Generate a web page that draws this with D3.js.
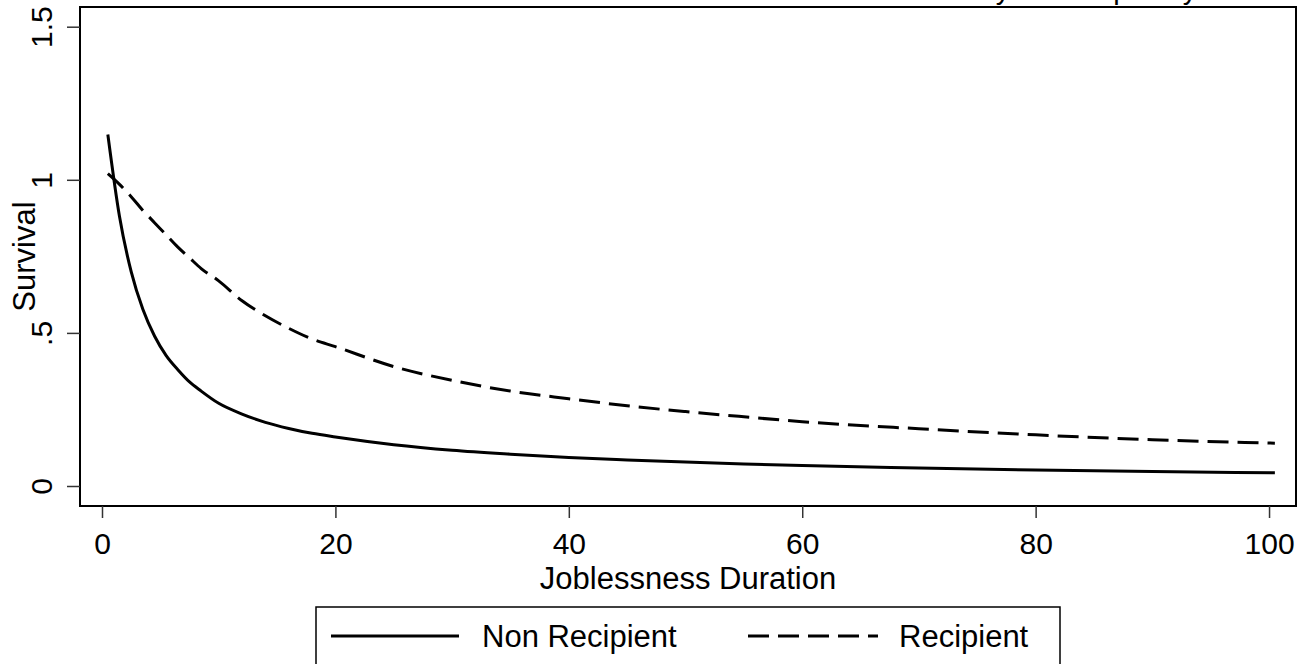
<!DOCTYPE html>
<html><head><meta charset="utf-8">
<script src="https://cdn.jsdelivr.net/npm/d3@7"></script>
<style>body{margin:0;background:#fff}svg{display:block}text{font-family:"Liberation Sans",Arial,sans-serif;fill:#000}</style>
</head><body><svg id="c" width="1312" height="664"></svg>
<script>
// ---- data ----
const duration      = [0.5, 1.5, 2.5, 3.5, 4.5, 5.5, 6.5, 7.5, 8.5, 10, 12, 14, 16, 18, 20, 25, 30, 35, 40, 45, 50, 55, 60, 70, 80, 90, 100.5];
const nonRecipient  = [1.148, 0.88, 0.70, 0.577, 0.49, 0.426, 0.38, 0.34, 0.31, 0.27, 0.235, 0.208, 0.188, 0.172, 0.16, 0.135, 0.117, 0.104, 0.093, 0.085, 0.078, 0.072, 0.067, 0.059, 0.052, 0.047, 0.043];
const recipient     = [1.02, 0.985, 0.945, 0.90, 0.86, 0.82, 0.78, 0.745, 0.71, 0.67, 0.605, 0.556, 0.515, 0.48, 0.455, 0.39, 0.345, 0.31, 0.285, 0.262, 0.243, 0.226, 0.21, 0.187, 0.167, 0.151, 0.14];
const xTicks        = [0, 20, 40, 60, 80, 100];
const yTicks        = [0, 0.5, 1, 1.5];
const yTickLabels   = ["0", ".5", "1", "1.5"];
const seriesNames   = ["Non Recipient", "Recipient"];
const titleText     = "Survival Function by UI Recipiency";
const xTitle        = "Joblessness Duration";
const yTitle        = "Survival";

// ---- layout ----
const svg = d3.select("#c");
const L = 80, R = 1296, T = 7, B = 506;
const x = d3.scaleLinear().domain([-1.885, 102.31]).range([L, R]);
const y = d3.scaleLinear().domain([0, 1.5]).range([486, 26.7]);
const FS = 30;

// title (cut off at the top edge; only descenders visible)
const title = svg.append("text").attr("x", 0).attr("y", -1)
  .style("font-size", "29px").text(titleText);
{
  const node = title.node();
  const idx = titleText.indexOf("by") + 1;
  const ext = node.getExtentOfChar(idx);
  const cx = ext.x + ext.width / 2;
  title.attr("x", 1003 - cx);
}

// plot frame
svg.append("rect").attr("x", L).attr("y", T).attr("width", R - L).attr("height", B - T)
  .attr("fill", "#fff").attr("stroke", "#000").attr("stroke-width", 2);

// y axis
const ya = svg.append("g").attr("transform", `translate(${L},0)`)
  .call(d3.axisLeft(y).tickValues(yTicks).tickSize(13).tickFormat((d, i) => yTickLabels[i]));
ya.select(".domain").remove();
ya.selectAll(".tick line").attr("stroke", "#333").attr("stroke-width", 1.5);
ya.selectAll(".tick text").attr("x", null).attr("dy", null)
  .attr("transform", "translate(-28,0) rotate(-90)").attr("text-anchor", "middle")
  .style("font-size", FS + "px").attr("fill", "#000");

// x axis
const xa = svg.append("g").attr("transform", `translate(0,${B})`)
  .call(d3.axisBottom(x).tickValues(xTicks).tickSize(12).tickPadding(15).tickFormat(d3.format("d")));
xa.select(".domain").remove();
xa.selectAll(".tick line").attr("stroke", "#333").attr("stroke-width", 1.5);
xa.selectAll(".tick text").style("font-size", FS + "px").attr("fill", "#000");

// axis titles
svg.append("text").attr("x", (L + R) / 2).attr("y", 589).attr("text-anchor", "middle")
  .style("font-size", "31px").text(xTitle);
svg.append("text").attr("transform", `translate(35,${(T + B) / 2}) rotate(-90)`)
  .attr("text-anchor", "middle").style("font-size", "31px").text(yTitle);

// lines
const line = d3.line().x((d, i) => x(duration[i])).y(d => y(d)).curve(d3.curveMonotoneX);
svg.append("path").datum(nonRecipient).attr("d", line).attr("fill", "none")
  .attr("stroke", "#000").attr("stroke-width", 3);
svg.append("path").datum(recipient).attr("d", line).attr("fill", "none")
  .attr("stroke", "#000").attr("stroke-width", 3).attr("stroke-dasharray", "21,9");

// legend
const lg = svg.append("g");
lg.append("rect").attr("x", 316).attr("y", 607).attr("width", 744).attr("height", 80)
  .attr("fill", "#fff").attr("stroke", "#000").attr("stroke-width", 1.5);
const legendItems = [
  {name: seriesNames[0], x0: 331, x1: 459, tx: 482, dash: null},
  {name: seriesNames[1], x0: 748, x1: 878, tx: 899, dash: "21,9"}
];
legendItems.forEach(it => {
  lg.append("line").attr("x1", it.x0).attr("x2", it.x1).attr("y1", 636).attr("y2", 636)
    .attr("stroke", "#000").attr("stroke-width", 3).attr("stroke-dasharray", it.dash);
  lg.append("text").attr("x", it.tx).attr("y", 647).style("font-size", "31px").text(it.name);
});
</script></body></html>
